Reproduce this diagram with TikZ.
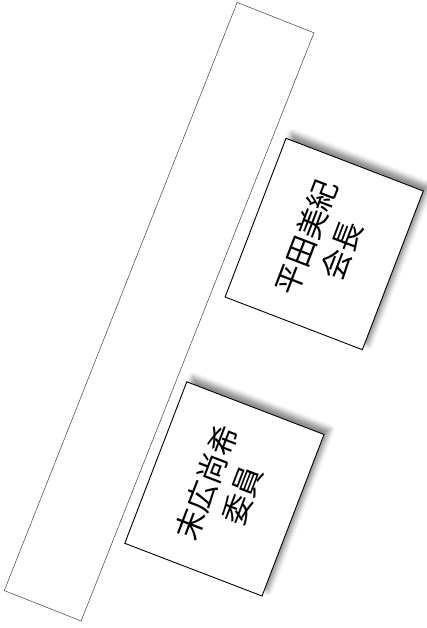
\documentclass[tikz,border=0pt]{standalone}
\usepackage{fontspec}
\newfontfamily\cjk{Noto Sans CJK JP}
\usetikzlibrary{shadows.blur}
\begin{document}
\begin{tikzpicture}[x=1pt,y=1pt,
  strip/.style={draw=black!75,line width=0.5pt,fill=white,rotate=68.4,inner sep=0pt},
  namebox/.style={draw=black,line width=0.9pt,fill=white,rotate=69,inner sep=0pt,
    minimum height=147pt,align=center,
    font=\cjk\fontsize{30}{38}\selectfont,
    blur shadow={shadow xshift=6pt,shadow yshift=5pt,shadow blur radius=5pt,shadow opacity=45}}]
\useasboundingbox (0,0) rectangle (427,-628);
\node[strip,minimum width=632.6pt,minimum height=82.6pt] (bar) at (159.15,-311.7) {};
\node[namebox,minimum width=170pt] (hirata) at (324.2,-244) {平田美紀\\会長};
\node[namebox,minimum width=173pt] (suehiro) at (224.4,-488.9) {末広尚希\\委員};
\end{tikzpicture}
\end{document}
